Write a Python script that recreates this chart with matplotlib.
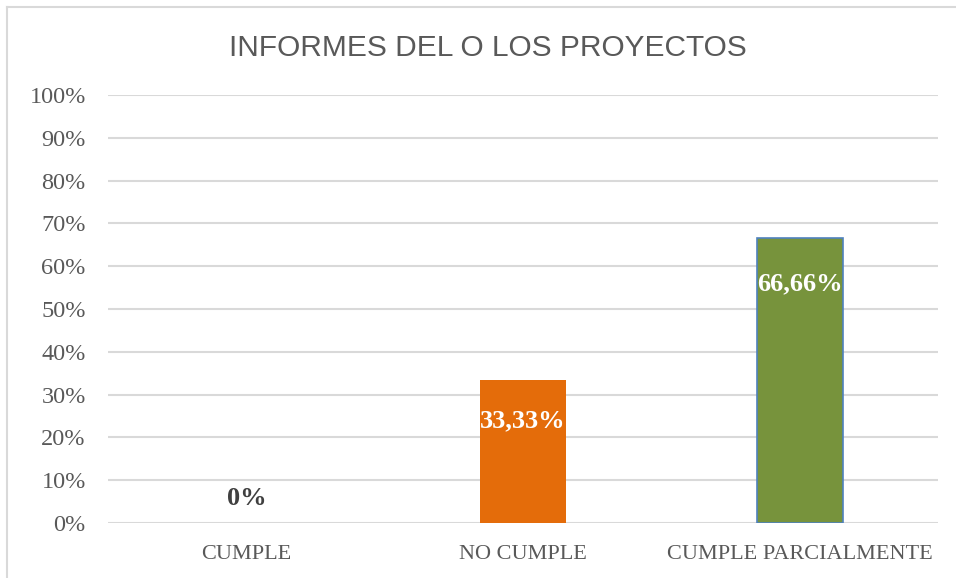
import matplotlib
matplotlib.use("Agg")
import matplotlib.pyplot as plt
from matplotlib.lines import Line2D

categories = ["CUMPLE", "NO CUMPLE", "CUMPLE PARCIALMENTE"]
values = [0.0, 0.3333, 0.6666]
value_labels = ["0%", "33,33%", "66,66%"]
yticks = [0, 0.1, 0.2, 0.3, 0.4, 0.5, 0.6, 0.7, 0.8, 0.9, 1.0]
ytick_labels = ["0%", "10%", "20%", "30%", "40%", "50%", "60%", "70%", "80%", "90%", "100%"]
title = "INFORMES DEL O LOS PROYECTOS"

bar_colors = ["#4472C4", "#E46C0A", "#77933C"]
edge_colors = ["none", "none", "#4F81BD"]
label_colors = ["#404040", "white", "white"]
label_y = [0.058, 0.238, 0.560]

W, H = 956, 578
fig = plt.figure(figsize=(W / 100, H / 100), dpi=100)
ax = fig.add_axes([108 / W, 55 / H, 830 / W, 428 / H])

x = list(range(len(categories)))
ax.bar(x, values, width=0.31, color=bar_colors, edgecolor=edge_colors, linewidth=1.2, zorder=3)
ax.set_xlim(-0.5, 2.5)
ax.set_ylim(0, 1.0)
ax.set_yticks(yticks)
ax.set_yticklabels(ytick_labels, family="Liberation Serif", fontsize=17.5, color="#595959")
ax.set_xticks(x)
ax.set_xticklabels(categories, family="Liberation Serif", fontsize=16, color="#595959")
ax.tick_params(length=0)
ax.tick_params(axis="y", pad=16)
ax.tick_params(axis="x", pad=16)
ax.grid(axis="y", color="#D9D9D9", linewidth=1.5, zorder=0)
for s in ax.spines.values():
    s.set_visible(False)

for xi, lab, ly, lc in zip(x, value_labels, label_y, label_colors):
    ax.text(xi, ly, lab, ha="center", va="center", family="Liberation Serif",
            fontsize=19, fontweight="bold", color=lc, zorder=4)

fig.text(488 / W, 1 - 48 / H, title, ha="center", va="center",
         family="Liberation Sans", fontsize=21.5, color="#595959")

# chart border
fig.add_artist(Line2D([7 / W, 7 / W], [0, 1 - 7 / H], transform=fig.transFigure, color="#D9D9D9", lw=1.5))
fig.add_artist(Line2D([7 / W, 1], [1 - 7 / H, 1 - 7 / H], transform=fig.transFigure, color="#D9D9D9", lw=1.5))

fig.savefig("out.png", dpi=100)
